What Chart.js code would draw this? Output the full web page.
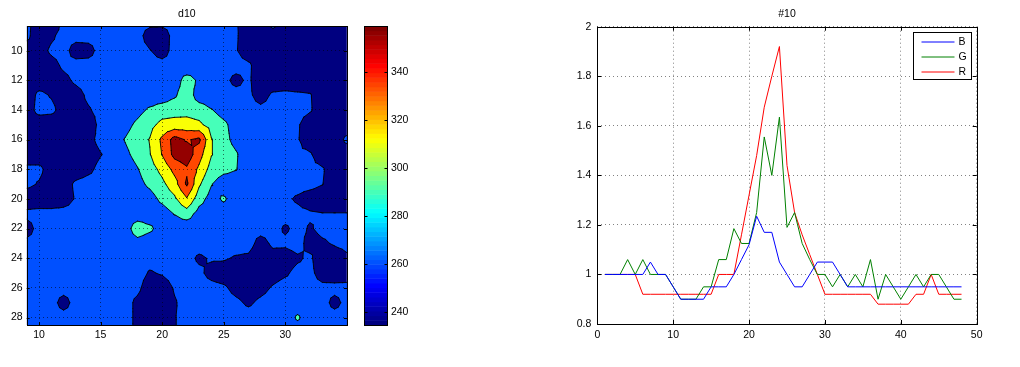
<!DOCTYPE html>
<html>
<head>
<meta charset="utf-8">
<title>d10 / #10</title>
<script src="https://cdn.jsdelivr.net/npm/chart.js@4.4.1/dist/chart.umd.min.js"></script>
<style>
  html, body { margin: 0; padding: 0; background: #fff; }
  #wrap { position: relative; width: 1020px; height: 367px; }
  #wrap canvas { position: absolute; top: 0; }
</style>
</head>
<body>
<div id="wrap">
  <canvas id="contour" width="510" height="367" style="left:0"></canvas>
  <canvas id="profile" width="510" height="367" style="left:510px"></canvas>
</div>
<script>
// ---- left panel "d10": filled contour of the intensity grid ----
const gridX = [9, 10, 11, 12, 13, 14, 15, 16, 17, 18, 19, 20, 21, 22, 23, 24, 25, 26, 27, 28, 29, 30, 31, 32, 33, 34, 35];
const gridY = [8, 9, 10, 11, 12, 13, 14, 15, 16, 17, 18, 19, 20, 21, 22, 23, 24, 25, 26, 27, 28, 29];
// one row per gridY value, one column per gridX value
const intensity = [
  [268,245,244,264,268,268,268,268,268,268,268,268,268,268,268,268,268,262,248,245,275,245,245,245,245,245,245],
  [266,245,256,268,268,268,268,268,268,268,250,248,268,268,268,268,268,263,245,245,245,245,245,245,245,245,245],
  [248,250,264,268,250,252,268,268,268,268,261,250,268,268,268,268,268,262,245,245,245,245,245,245,245,245,245],
  [245,245,252,264,268,268,268,268,268,268,268,268,268,262,268,268,268,268,265,245,245,245,245,245,245,245,245],
  [245,245,248,254,264,268,268,268,268,268,268,268,268,290,276,268,266,254,264,245,245,245,245,245,245,245,245],
  [245,266,258,248,252,264,268,268,268,268,268,268,277,292,270,268,268,268,265,250,264,266,264,262,245,245,245],
  [248,268,266,250,252,258,266,268,268,274,283,290,292,293,290,281,272,268,268,266,268,268,268,263,245,245,245],
  [245,245,245,245,245,248,266,270,274,284,294,306,308,308,304,292,284,272,268,268,268,268,263,245,245,245,245],
  [245,245,245,245,245,254,266,270,281,290,301,324,348,338,344,301,286,274,268,268,268,268,262,245,245,245,266],
  [245,245,245,245,245,250,259,268,276,286,299,321,346,352,328,301,290,282,268,268,268,268,265,263,245,245,245],
  [266,266,248,245,248,255,266,268,270,279,291,306,326,337,316,292,286,281,268,268,268,268,268,266,263,245,245],
  [266,258,248,250,264,268,268,268,268,274,284,295,312,343,303,281,268,268,268,268,268,268,268,268,261,245,245],
  [245,245,245,250,262,268,268,268,268,268,272,285,296,318,288,272,283,268,268,268,268,264,257,248,245,245,245],
  [266,268,268,268,268,268,268,268,268,268,268,270,281,290,272,268,268,268,268,268,268,268,266,263,261,261,261],
  [250,268,268,268,268,268,268,268,270,292,284,270,268,266,268,268,268,268,268,268,268,257,266,258,265,266,268],
  [266,268,268,268,268,268,268,268,268,272,268,268,268,268,268,268,268,268,268,252,264,264,268,252,257,262,265],
  [268,268,268,268,268,268,268,268,268,268,268,268,268,266,257,262,262,258,256,245,252,250,257,264,245,250,257],
  [268,268,268,268,268,268,268,268,268,268,258,262,268,268,264,254,250,248,245,248,252,257,266,266,250,248,250],
  [268,268,268,268,268,268,268,268,268,265,248,248,262,268,268,266,263,254,250,254,262,268,268,268,266,266,266],
  [268,268,268,252,268,268,268,268,268,255,245,245,258,268,268,268,268,264,257,264,268,268,268,268,268,254,266],
  [268,268,268,268,268,268,268,268,268,255,245,245,259,266,268,268,268,268,268,268,268,268,283,268,268,268,268],
  [268,268,268,268,268,268,268,268,268,255,245,245,259,266,268,268,268,268,268,268,268,268,268,268,268,268,268]
];
const contourLevels = [260, 280, 300, 320, 340];
const contourFills = ['#000080', '#0050ff', '#46ffb9', '#faff05', '#ff4700', '#940000'];
const contourXTicks = [10, 15, 20, 25, 30];
const contourYTicks = [10, 12, 14, 16, 18, 20, 22, 24, 26, 28];
const colorbarTicks = [240, 260, 280, 300, 320, 340];

// ---- right panel "#10": B / G / R profiles ----
const frames = [1, 2, 3, 4, 5, 6, 7, 8, 9, 10, 11, 12, 13, 14, 15, 16, 17, 18, 19, 20, 21, 22, 23, 24,
                25, 26, 27, 28, 29, 30, 31, 32, 33, 34, 35, 36, 37, 38, 39, 40, 41, 42, 43, 44, 45, 46, 47, 48];
const seriesB = [1, 1, 1, 1, 1, 1, 1.05, 1, 1, 0.95, 0.9, 0.9, 0.9, 0.9, 0.95, 0.95, 0.95, 1, 1.06, 1.12, 1.235, 1.17, 1.17, 1.05,
                 1, 0.95, 0.95, 1, 1.05, 1.05, 1.05, 1, 0.95, 0.95, 0.95, 0.95, 0.95, 0.95, 0.95, 0.95, 0.95, 0.95, 0.95, 0.95, 0.95, 0.95, 0.95, 0.95];
const seriesG = [1, 1, 1, 1.06, 1, 1.06, 1, 1, 1, 0.95, 0.9, 0.9, 0.9, 0.95, 0.95, 1.06, 1.06, 1.185, 1.125, 1.125, 1.25, 1.555, 1.4, 1.635,
                 1.19, 1.25, 1.125, 1.06, 1, 1, 0.95, 1, 0.95, 1, 0.95, 1.06, 0.9, 1, 0.95, 0.9, 0.95, 1, 0.95, 1, 1, 0.95, 0.9, 0.9];
const seriesR = [1, 1, 1, 1, 1, 0.92, 0.92, 0.92, 0.92, 0.92, 0.92, 0.92, 0.92, 0.92, 0.92, 1, 1, 1, 1.16, 1.32, 1.48, 1.675, 1.8, 1.92,
                 1.44, 1.25, 1.16, 1.08, 1, 0.92, 0.92, 0.92, 0.92, 0.92, 0.92, 0.92, 0.88, 0.88, 0.88, 0.88, 0.88, 0.92, 0.92, 1, 0.92, 0.92, 0.92, 0.92];
const profileXTicks = [0, 10, 20, 30, 40, 50];
const profileYTicks = [0.8, 1, 1.2, 1.4, 1.6, 1.8, 2];

const FONT_FAMILY = '"Liberation Sans", Arial, Helvetica, sans-serif';
const tickFont = { family: FONT_FAMILY, size: 10.5 };

// jet colormap, t in [0,1]
function jet(t) {
    const c = v => Math.round(255 * Math.min(1, Math.max(0, v)));
    return `rgb(${c(1.5 - Math.abs(4 * t - 3))},${c(1.5 - Math.abs(4 * t - 2))},${c(1.5 - Math.abs(4 * t - 1))})`;
}

// keep the scale's own label padding from pushing the plot area around
function noEdgePadding(s) {
    s.paddingTop = 0;
    s.paddingBottom = 0;
    s.paddingLeft = 0;
    s.paddingRight = 0;
}

// part of triangle where value >= lev
function clipAbove(tri, lev) {
    const out = [];
    for (let i = 0; i < 3; i++) {
        const a = tri[i], b = tri[(i + 1) % 3];
        if (a[2] >= lev) out.push(a);
        if ((a[2] >= lev) !== (b[2] >= lev)) {
            const f = (lev - a[2]) / (b[2] - a[2]);
            out.push([a[0] + f * (b[0] - a[0]), a[1] + f * (b[1] - a[1])]);
        }
    }
    return out;
}

function isoSegment(tri, lev) {
    const pts = [];
    for (let i = 0; i < 3; i++) {
        const a = tri[i], b = tri[(i + 1) % 3];
        if ((a[2] >= lev) !== (b[2] >= lev)) {
            const f = (lev - a[2]) / (b[2] - a[2]);
            pts.push([a[0] + f * (b[0] - a[0]), a[1] + f * (b[1] - a[1])]);
        }
    }
    return pts.length === 2 ? pts : null;
}

function drawBoxAndTicks(chart, len) {
    const { ctx, chartArea: a, scales: { x, y } } = chart;
    ctx.save();
    ctx.strokeStyle = '#000';
    ctx.lineWidth = 1;
    ctx.beginPath();
    x.ticks.forEach(t => {
        const px = Math.round(x.getPixelForValue(t.value)) + 0.5;
        ctx.moveTo(px, a.bottom); ctx.lineTo(px, a.bottom - len);
        ctx.moveTo(px, a.top); ctx.lineTo(px, a.top + len);
    });
    y.ticks.forEach(t => {
        const py = Math.round(y.getPixelForValue(t.value)) + 0.5;
        ctx.moveTo(a.left, py); ctx.lineTo(a.left + len, py);
        ctx.moveTo(a.right, py); ctx.lineTo(a.right - len, py);
    });
    ctx.stroke();
    ctx.strokeRect(Math.round(a.left) + 0.5, Math.round(a.top) + 0.5,
                   Math.round(a.right) - Math.round(a.left), Math.round(a.bottom) - Math.round(a.top));
    ctx.restore();
}

function drawTitle(chart, text) {
    const { ctx, chartArea: a } = chart;
    ctx.save();
    ctx.fillStyle = '#000';
    ctx.font = `10.5px ${FONT_FAMILY}`;
    ctx.textAlign = 'center';
    ctx.textBaseline = 'alphabetic';
    ctx.fillText(text, (a.left + a.right) / 2, a.top - 9.5);
    ctx.restore();
}

const contourPlugin = {
    id: 'contourFill',
    beforeDatasetsDraw(chart) {
        const { ctx, chartArea: a, scales: { x, y } } = chart;
        const px = gridX.map(v => x.getPixelForValue(v));
        const py = gridY.map(v => y.getPixelForValue(v));

        // split every grid cell into 4 triangles around its mean
        const tris = [];
        for (let r = 0; r < gridY.length - 1; r++) {
            for (let c = 0; c < gridX.length - 1; c++) {
                const p = [
                    [px[c], py[r], intensity[r][c]],
                    [px[c + 1], py[r], intensity[r][c + 1]],
                    [px[c + 1], py[r + 1], intensity[r + 1][c + 1]],
                    [px[c], py[r + 1], intensity[r + 1][c]]
                ];
                const m = [(px[c] + px[c + 1]) / 2, (py[r] + py[r + 1]) / 2,
                           (p[0][2] + p[1][2] + p[2][2] + p[3][2]) / 4];
                for (let k = 0; k < 4; k++) tris.push([p[k], p[(k + 1) % 4], m]);
            }
        }

        ctx.save();
        ctx.beginPath();
        ctx.rect(a.left, a.top, a.width, a.height);
        ctx.clip();
        ctx.fillStyle = contourFills[0];
        ctx.fillRect(a.left, a.top, a.width, a.height);

        contourLevels.forEach((lev, li) => {
            ctx.beginPath();
            tris.forEach(t => {
                const poly = clipAbove(t, lev);
                if (poly.length < 3) return;
                ctx.moveTo(poly[0][0], poly[0][1]);
                for (let i = 1; i < poly.length; i++) ctx.lineTo(poly[i][0], poly[i][1]);
                ctx.closePath();
            });
            ctx.fillStyle = contourFills[li + 1];
            ctx.fill();
        });

        // contour lines
        ctx.beginPath();
        contourLevels.forEach(lev => {
            tris.forEach(t => {
                const s = isoSegment(t, lev);
                if (!s) return;
                ctx.moveTo(s[0][0], s[0][1]);
                ctx.lineTo(s[1][0], s[1][1]);
            });
        });
        ctx.strokeStyle = '#000';
        ctx.lineWidth = 0.9;
        ctx.lineCap = 'round';
        ctx.lineJoin = 'round';
        ctx.stroke();
        ctx.restore();
    },
    afterDraw(chart) {
        const { ctx, chartArea: a } = chart;
        const cb = chart.scales.cb;
        const left = Math.round(a.right + 17) + 0.5;
        const width = 23;
        const top = cb.getPixelForValue(cb.max);
        const bottom = cb.getPixelForValue(cb.min);
        const n = 64;
        ctx.save();
        for (let i = 0; i < n; i++) {
            const v0 = cb.min + (cb.max - cb.min) * i / n;
            const v1 = cb.min + (cb.max - cb.min) * (i + 1) / n;
            const y0 = cb.getPixelForValue(v1);
            const y1 = cb.getPixelForValue(v0);
            ctx.fillStyle = jet(i / (n - 1));
            ctx.fillRect(left, y0, width, y1 - y0 + 0.5);
        }
        ctx.strokeStyle = '#000';
        ctx.lineWidth = 1;
        ctx.beginPath();
        cb.ticks.forEach(t => {
            const py = Math.round(cb.getPixelForValue(t.value)) + 0.5;
            ctx.moveTo(left, py); ctx.lineTo(left + 3, py);
            ctx.moveTo(left + width, py); ctx.lineTo(left + width - 3, py);
        });
        ctx.stroke();
        ctx.strokeRect(left, Math.round(top) + 0.5, width, Math.round(bottom) - Math.round(top));
        ctx.restore();

        drawBoxAndTicks(chart, 3);
        drawTitle(chart, 'd10');
    }
};

const contourChart = new Chart(document.getElementById('contour'), {
    type: 'scatter',
    data: { datasets: [] },
    options: {
        responsive: false,
        animation: false,
        layout: { padding: { top: 26, left: 0, right: 0, bottom: 0 } },
        plugins: { legend: { display: false }, tooltip: { enabled: false } },
        scales: {
            x: {
                type: 'linear', min: 9, max: 35,
                afterBuildTicks: s => { s.ticks = contourXTicks.map(v => ({ value: v })); },
                afterFit: s => { s.height = 42; noEdgePadding(s); },
                grid: { color: 'rgba(0,0,0,0.8)', lineWidth: 0.7, drawTicks: false, z: 1 },
                border: { display: false, dash: [1, 3] },
                ticks: { color: '#000', font: tickFont, padding: 4, maxRotation: 0 }
            },
            y: {
                type: 'linear', reverse: true, min: 8.34, max: 28.5,
                afterBuildTicks: s => { s.ticks = contourYTicks.map(v => ({ value: v })); },
                afterFit: s => { s.width = 26.7; noEdgePadding(s); },
                grid: { color: 'rgba(0,0,0,0.8)', lineWidth: 0.7, drawTicks: false, z: 1 },
                border: { display: false, dash: [1, 3] },
                ticks: { color: '#000', font: tickFont, padding: 4 }
            },
            cb: {
                type: 'linear', position: 'right', min: 234.6, max: 359.3,
                afterBuildTicks: s => { s.ticks = colorbarTicks.map(v => ({ value: v })); },
                afterFit: s => { s.width = 163.1; noEdgePadding(s); },
                grid: { display: false, drawTicks: false },
                border: { display: false },
                ticks: { color: '#000', font: tickFont, padding: 44 }
            }
        }
    },
    plugins: [contourPlugin]
});

// ---- right panel ----
const legendPlugin = {
    id: 'boxLegend',
    afterDraw(chart) {
        const { ctx, chartArea: a } = chart;
        drawBoxAndTicks(chart, 4);
        drawTitle(chart, '#10');

        const w = 58, h = 47;
        const left = Math.round(a.right - 6 - w) + 0.5;
        const top = Math.round(a.top + 5) + 0.5;
        ctx.save();
        ctx.fillStyle = '#fff';
        ctx.fillRect(left, top, w, h);
        ctx.strokeStyle = '#000';
        ctx.lineWidth = 1;
        ctx.strokeRect(left, top, w, h);
        ctx.font = `10.5px ${FONT_FAMILY}`;
        ctx.textBaseline = 'middle';
        ctx.textAlign = 'left';
        chart.data.datasets.forEach((ds, i) => {
            const yy = top + 9.5 + i * 15;
            ctx.strokeStyle = ds.borderColor;
            ctx.beginPath();
            ctx.moveTo(left + 8, yy);
            ctx.lineTo(left + 41, yy);
            ctx.stroke();
            ctx.fillStyle = '#000';
            ctx.fillText(ds.label, left + 45, yy + 0.5);
        });
        ctx.restore();
    }
};

const toPoints = vals => frames.map((f, i) => ({ x: f, y: vals[i] }));

const profileChart = new Chart(document.getElementById('profile'), {
    type: 'line',
    data: {
        datasets: [
            { label: 'B', data: toPoints(seriesB), borderColor: '#0000ff', borderWidth: 1, pointRadius: 0, tension: 0, fill: false },
            { label: 'G', data: toPoints(seriesG), borderColor: '#008000', borderWidth: 1, pointRadius: 0, tension: 0, fill: false },
            { label: 'R', data: toPoints(seriesR), borderColor: '#ff0000', borderWidth: 1, pointRadius: 0, tension: 0, fill: false }
        ]
    },
    options: {
        responsive: false,
        animation: false,
        layout: { padding: { top: 26.7, left: 0, right: 43.3, bottom: 0 } },
        plugins: { legend: { display: false }, tooltip: { enabled: false } },
        scales: {
            x: {
                type: 'linear', min: 0, max: 50,
                afterBuildTicks: s => { s.ticks = profileXTicks.map(v => ({ value: v })); },
                afterFit: s => { s.height = 43; noEdgePadding(s); },
                grid: { color: 'rgba(0,0,0,0.7)', lineWidth: 0.7, drawTicks: false },
                border: { display: false, dash: [1, 3] },
                ticks: { color: '#000', font: tickFont, padding: 5, maxRotation: 0 }
            },
            y: {
                type: 'linear', min: 0.8, max: 2,
                afterBuildTicks: s => { s.ticks = profileYTicks.map(v => ({ value: v })); },
                afterFit: s => { s.width = 87.3; noEdgePadding(s); },
                grid: { color: 'rgba(0,0,0,0.7)', lineWidth: 0.7, drawTicks: false },
                border: { display: false, dash: [1, 3] },
                ticks: { color: '#000', font: tickFont, padding: 6, callback: v => String(Math.round(v * 10) / 10) }
            }
        }
    },
    plugins: [legendPlugin]
});
</script>
</body>
</html>
